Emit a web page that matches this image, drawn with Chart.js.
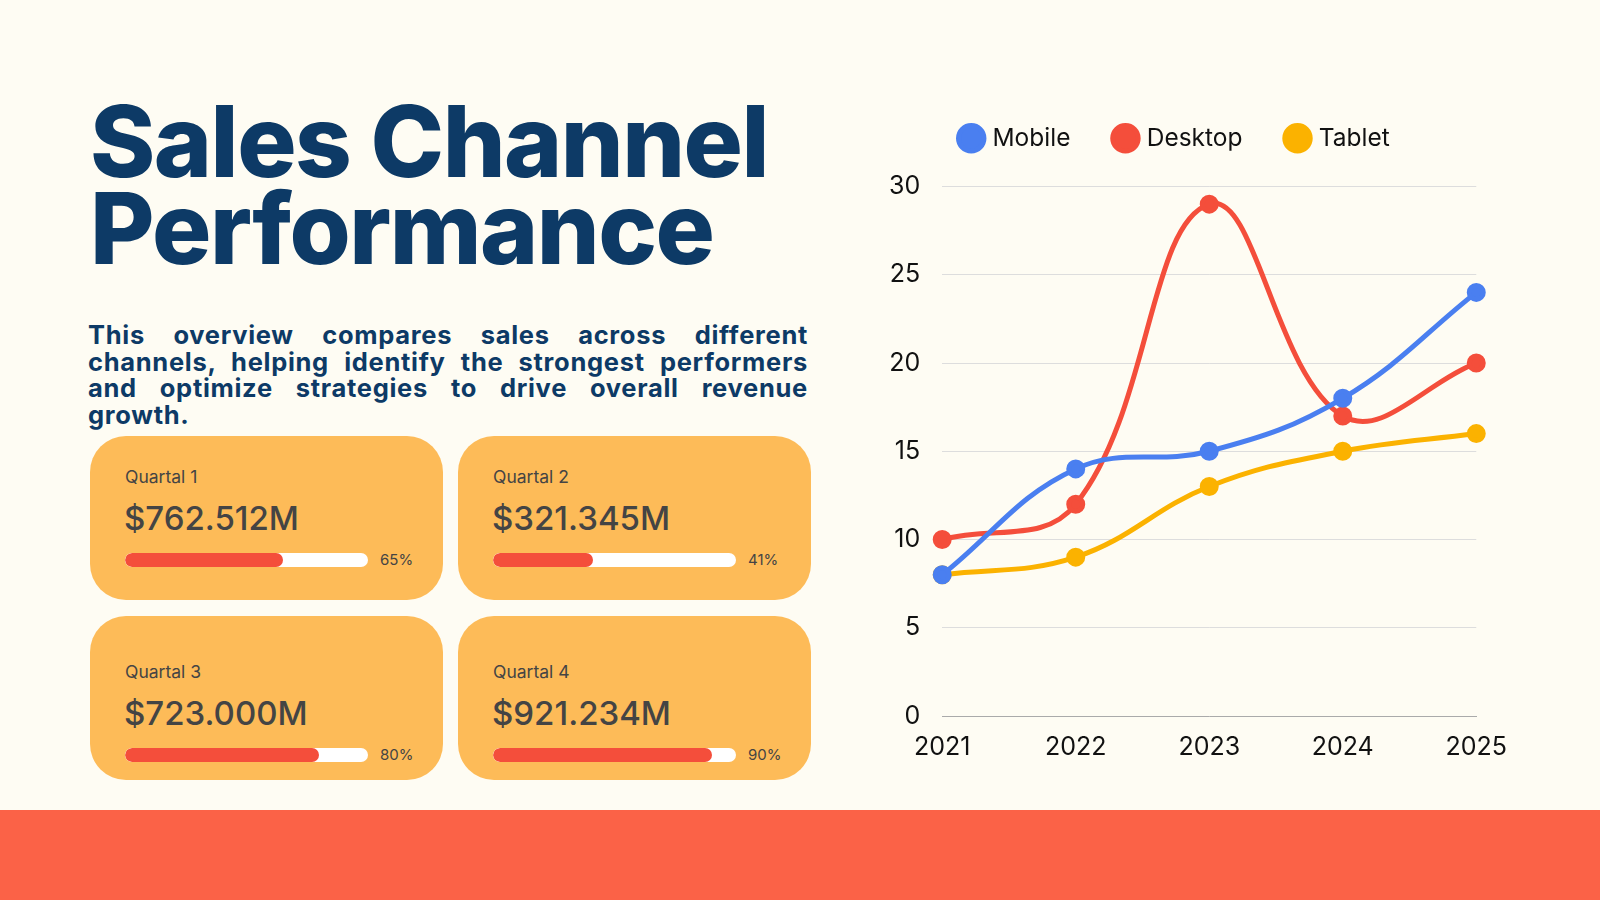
<!DOCTYPE html>
<html><head><meta charset="utf-8">
<script src="https://cdn.jsdelivr.net/npm/chart.js@4/dist/chart.umd.min.js"></script>
<style>
body{margin:0;width:1600px;height:900px;background:#fefcf3;position:relative;overflow:hidden;font-family:Inter,"Noto Sans",sans-serif}
h1{position:absolute;left:90px;top:98px;margin:0;font-size:99px;line-height:87px;font-weight:800;color:#0d3a66;letter-spacing:-1.5px}
p{position:absolute;left:88px;top:322px;width:720px;margin:0;font-size:25.5px;line-height:26.5px;font-weight:700;color:#0d3a66;text-align:justify;letter-spacing:0.7px}
.card{position:absolute;width:353px;height:164px;background:#fdbb58;border-radius:36px;color:#444}
.q{position:absolute;left:35px;top:30px;font-size:17.5px}
.v{position:absolute;left:34px;top:62px;font-size:33px;font-weight:500}
.bar{position:absolute;left:35px;top:117px;width:243px;height:14px;background:#fff;border-radius:7px;overflow:hidden}
.fill{height:100%;background:#f44e3b;border-radius:7px}
.pc{position:absolute;left:290px;top:114px;font-size:15px}
#band{position:absolute;left:0;top:810px;width:1600px;height:90px;background:#fb6247}
#wrap{position:absolute;left:867px;top:80px;width:648px;height:690px}
</style></head><body>
<h1>Sales Channel<br>Performance</h1>
<p>This overview compares sales across different channels, helping identify the strongest performers and optimize strategies to drive overall revenue growth.</p>
<div id="cards"></div>
<div id="wrap"><canvas id="c"></canvas></div>
<div id="band"></div>
<script>
const years=["2021","2022","2023","2024","2025"];
const mobile=[8,14,15,18,24];
const desktop=[10,12,29,17,20];
const tablet=[8,9,13,15,16];
const quarters=["Quartal 1","Quartal 2","Quartal 3","Quartal 4"];
const amounts=["$762.512M","$321.345M","$723.000M","$921.234M"];
const percents=[65,41,80,90];
const pos=[[90,436,0],[458,436,0],[90,616,15],[458,616,15]];
quarters.forEach((q,i)=>{
 const d=document.createElement('div');d.className='card';
 d.style.left=pos[i][0]+'px';d.style.top=pos[i][1]+'px';
 const o=pos[i][2];
 d.innerHTML=`<div class="q" style="margin-top:${o}px">${q}</div><div class="v" style="margin-top:${o}px">${amounts[i]}</div><div class="bar" style="margin-top:${o}px"><div class="fill" style="width:${percents[i]}%"></div></div><div class="pc" style="margin-top:${o}px">${percents[i]}%</div>`;
 document.getElementById('cards').appendChild(d);
});
const ds=(l,d,c)=>({label:l,data:d,borderColor:c,backgroundColor:c,borderWidth:5,pointRadius:7,pointHoverRadius:7,tension:0.4});
const gap={id:'gap',beforeInit(c){const f=c.legend.fit;c.legend.fit=function(){f.call(this);this.height+=26;};}};
new Chart(document.getElementById('c'),{type:'line',plugins:[gap],
 data:{labels:years,datasets:[ds('Mobile',mobile,'#4a7ff0'),ds('Desktop',desktop,'#f44e3b'),ds('Tablet',tablet,'#fbb200')]},
 options:{responsive:true,maintainAspectRatio:false,animation:false,
  layout:{padding:{left:0,right:30,top:0,bottom:0}},
  plugins:{legend:{labels:{usePointStyle:true,pointStyle:'circle',boxWidth:18,boxHeight:18,padding:46,color:'#111',font:{size:24.5,family:'Inter'}}},tooltip:{enabled:false}},
  scales:{
   x:{offset:false,grid:{display:false},border:{color:'#aaa'},ticks:{color:'#111',font:{size:25,family:'Inter'},padding:8}},
   y:{min:0,max:30,ticks:{stepSize:5,color:'#111',font:{size:25,family:'Inter'},padding:22},grid:{color:'#ddd',drawTicks:false},border:{display:false}}
  }}});
</script>
</body></html>
